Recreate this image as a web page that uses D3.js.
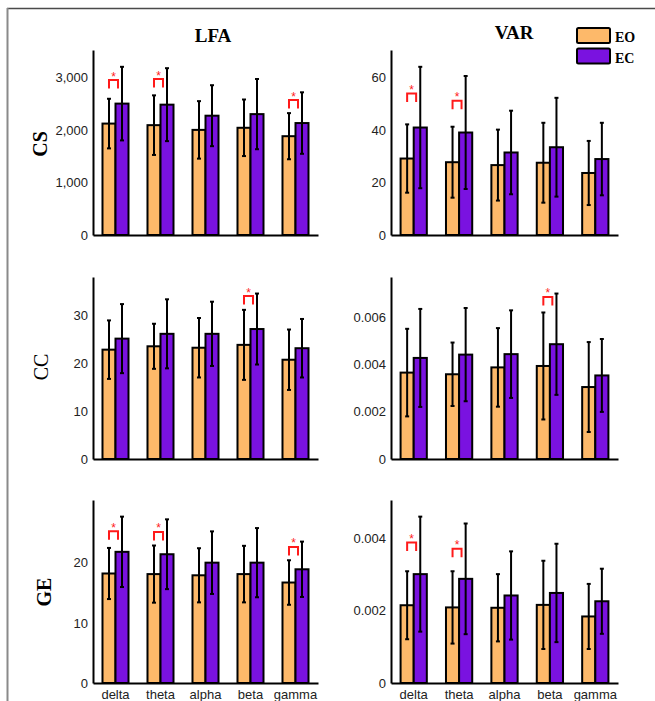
<!DOCTYPE html>
<html>
<head>
<meta charset="utf-8">
<script src="https://cdn.jsdelivr.net/npm/d3@7"></script>
<style>
  body { margin: 0; background: #fff; }
  svg { display: block; }
</style>
</head>
<body>
<script>
const bands = ['delta', 'theta', 'alpha', 'beta', 'gamma']
const groups = ['EO', 'EC']
const measures = ['CS', 'CC', 'GE']
const methods = ['LFA', 'VAR']

// mean and sd per band, one pair of arrays per group and panel
const csLfaEO = [2120, 2090, 2000, 2040, 1880]
const csLfaEOsd = [472, 567, 547, 538, 439]
const csLfaEC = [2500, 2480, 2270, 2300, 2130]
const csLfaECsd = [700, 694, 580, 668, 585]

const csVarEO = [29.1, 27.7, 26.6, 27.5, 23.6]
const csVarEOsd = [13.0, 13.5, 13.5, 15.2, 12.2]
const csVarEC = [40.9, 39.0, 31.4, 33.4, 28.9]
const csVarECsd = [23.1, 21.5, 15.9, 18.8, 13.8]

const ccLfaEO = [22.8, 23.5, 23.2, 23.8, 20.7]
const ccLfaEOsd = [6.1, 4.7, 6.2, 7.3, 6.3]
const ccLfaEC = [25.1, 26.1, 26.1, 27.1, 23.1]
const ccLfaECsd = [7.2, 7.2, 6.7, 7.4, 6.1]

const ccVarEO = [0.00365, 0.00358, 0.00387, 0.00393, 0.00304]
const ccVarEOsd = [0.00185, 0.00134, 0.00166, 0.00226, 0.00190]
const ccVarEC = [0.00427, 0.00441, 0.00443, 0.00485, 0.00353]
const ccVarECsd = [0.00207, 0.00197, 0.00185, 0.00214, 0.00154]

const geLfaEO = [18.2, 18.1, 17.9, 18.1, 16.7]
const geLfaEOsd = [4.25, 4.75, 4.5, 4.7, 3.7]
const geLfaEC = [21.8, 21.4, 20.0, 20.0, 18.9]
const geLfaECsd = [5.85, 5.8, 5.2, 5.75, 4.6]

const geVarEO = [0.00215, 0.00209, 0.00208, 0.00216, 0.00184]
const geVarEOsd = [0.00094, 0.00100, 0.00093, 0.00122, 0.00090]
const geVarEC = [0.00301, 0.00288, 0.00242, 0.00249, 0.00226]
const geVarECsd = [0.00159, 0.00153, 0.00122, 0.00136, 0.00090]

// level of the significance bracket (data units), null = not significant
const csLfaSig = [2786, 2805, null, null, 2405]
const csVarSig = [50.6, 47.9, null, null, null]
const ccLfaSig = [null, null, null, 32.2, null]
const ccVarSig = [null, null, null, 0.00649, null]
const geLfaSig = [23.8, 23.7, null, null, 21.2]
const geVarSig = [0.00365, 0.00348, null, null, null]

const csLfaTicks = [0, 1000, 2000, 3000]
const csVarTicks = [0, 20, 40, 60]
const ccLfaTicks = [0, 10, 20, 30]
const ccVarTicks = [0, 0.002, 0.004, 0.006]
const geLfaTicks = [0, 10, 20]
const geVarTicks = [0, 0.002, 0.004]

const panels = [
  { row: 0, col: 0, eo: csLfaEO, eoSd: csLfaEOsd, ec: csLfaEC, ecSd: csLfaECsd, sig: csLfaSig, ticks: csLfaTicks },
  { row: 0, col: 1, eo: csVarEO, eoSd: csVarEOsd, ec: csVarEC, ecSd: csVarECsd, sig: csVarSig, ticks: csVarTicks },
  { row: 1, col: 0, eo: ccLfaEO, eoSd: ccLfaEOsd, ec: ccLfaEC, ecSd: ccLfaECsd, sig: ccLfaSig, ticks: ccLfaTicks },
  { row: 1, col: 1, eo: ccVarEO, eoSd: ccVarEOsd, ec: ccVarEC, ecSd: ccVarECsd, sig: ccVarSig, ticks: ccVarTicks },
  { row: 2, col: 0, eo: geLfaEO, eoSd: geLfaEOsd, ec: geLfaEC, ecSd: geLfaECsd, sig: geLfaSig, ticks: geLfaTicks },
  { row: 2, col: 1, eo: geVarEO, eoSd: geVarEOsd, ec: geVarEC, ecSd: geVarECsd, sig: geVarSig, ticks: geVarTicks }
]

const W = 655
const H = 701
const colX = [93, 391]
const colW = [225, 227]
const rowY = [[50, 235], [277, 459], [500, 683]]
const colors = { EO: '#FDB96A', EC: '#7A12E0' }
const sansFont = '"Liberation Sans", Arial, sans-serif'
const serifFont = '"Liberation Serif", "Times New Roman", serif'

const svg = d3.select('body').append('svg')
  .attr('width', W)
  .attr('height', H)

// outer frame (cut at right and bottom)
svg.append('line')
  .attr('x1', 7).attr('x2', W).attr('y1', 8.5).attr('y2', 8.5)
  .attr('stroke', '#4a4a4a').attr('stroke-width', 1.5)
svg.append('line')
  .attr('x1', 7.5).attr('x2', 7.5).attr('y1', 8).attr('y2', H)
  .attr('stroke', '#8a8a8a').attr('stroke-width', 2)

const fmt = v => v === 0 ? '0' : (Math.abs(v) < 1 ? d3.format('.3f')(v) : d3.format(',')(v))

panels.forEach(p => {
  const [top, bottom] = rowY[p.row]
  const g = svg.append('g')
    .attr('transform', `translate(${colX[p.col]},0)`)

  const x = d3.scaleBand().domain(bands).range([0, colW[p.col]])
  const xSub = d3.scaleBand().domain(groups).range([0, x.bandwidth()]).paddingOuter(0.73)
  const maxTop = d3.max(bands, (b, i) => Math.max(p.eo[i] + p.eoSd[i], p.ec[i] + p.ecSd[i]))
  const y = d3.scaleLinear().domain([0, maxTop * 1.1]).range([bottom, top])

  const rows = []
  bands.forEach((b, i) => {
    rows.push({ band: b, group: 'EO', mean: p.eo[i], sd: p.eoSd[i] })
    rows.push({ band: b, group: 'EC', mean: p.ec[i], sd: p.ecSd[i] })
  })

  g.selectAll('.bar').data(rows).enter()
    .append('rect')
    .attr('class', 'bar')
    .attr('x', d => x(d.band) + xSub(d.group))
    .attr('y', d => y(d.mean))
    .attr('width', xSub.bandwidth())
    .attr('height', d => y(0) - y(d.mean))
    .attr('fill', d => colors[d.group])
    .attr('stroke', '#000')
    .attr('stroke-width', 2)

  const cx = d => x(d.band) + xSub(d.group) + xSub.bandwidth() / 2
  const err = g.selectAll('.err').data(rows).enter()
    .append('g')
    .attr('class', 'err')
  err.append('line')
    .attr('x1', cx).attr('x2', cx)
    .attr('y1', d => y(d.mean - d.sd)).attr('y2', d => y(d.mean + d.sd))
    .attr('stroke', '#000').attr('stroke-width', 2)
  err.append('line')
    .attr('x1', d => cx(d) - 2).attr('x2', d => cx(d) + 2)
    .attr('y1', d => y(d.mean + d.sd)).attr('y2', d => y(d.mean + d.sd))
    .attr('stroke', '#000').attr('stroke-width', 2)
  err.append('line')
    .attr('x1', d => cx(d) - 2).attr('x2', d => cx(d) + 2)
    .attr('y1', d => y(d.mean - d.sd)).attr('y2', d => y(d.mean - d.sd))
    .attr('stroke', '#000').attr('stroke-width', 2)

  // significance brackets
  const sigs = bands.map((b, i) => ({ band: b, level: p.sig[i] })).filter(d => d.level !== null)
  const sg = g.selectAll('.sig').data(sigs).enter()
    .append('g')
    .attr('class', 'sig')
  const bx0 = d => x(d.band) + xSub('EO') + xSub.bandwidth() / 2
  sg.append('path')
    .attr('d', d => {
      const x0 = bx0(d), x1 = x0 + 9, yb = y(d.level), yt = yb - 8.5
      return `M${x0},${yb}V${yt}H${x1}V${yb}`
    })
    .attr('fill', 'none')
    .attr('stroke', '#ff1a1a')
    .attr('stroke-width', 2)
  sg.append('text')
    .attr('x', d => bx0(d) + 4.5)
    .attr('y', d => y(d.level) - 8)
    .attr('text-anchor', 'middle')
    .attr('font-family', sansFont)
    .attr('font-size', 12)
    .attr('fill', '#ff1a1a')
    .text('*')

  // axes
  const yAxis = g.append('g')
    .call(d3.axisLeft(y).tickValues(p.ticks).tickFormat(fmt).tickSize(0).tickSizeOuter(0).tickPadding(5))
  yAxis.select('.domain').attr('stroke', '#000').attr('stroke-width', 2)
  yAxis.selectAll('text')
    .attr('font-family', sansFont)
    .attr('font-size', 13)
    .attr('fill', '#222')

  const xAxis = g.append('g')
    .attr('transform', `translate(0,${bottom})`)
    .call(d3.axisBottom(x).tickSize(0).tickSizeOuter(0).tickPadding(6.5))
  xAxis.select('.domain').attr('stroke', '#000').attr('stroke-width', 2)
  xAxis.selectAll('text')
    .attr('font-family', sansFont)
    .attr('font-size', 13)
    .attr('fill', '#222')
    .style('display', p.row === 2 ? null : 'none')
})

// column titles
const titleX = [213, 514]
const titleY = [42, 39]
methods.forEach((m, i) => {
  svg.append('text')
    .attr('x', titleX[i])
    .attr('y', titleY[i])
    .attr('text-anchor', 'middle')
    .attr('font-family', serifFont)
    .attr('font-weight', 'bold')
    .attr('font-size', 19)
    .text(m)
})

// row labels
const labelPos = [[47, 144], [48, 367], [51, 592]]
measures.forEach((m, i) => {
  svg.append('text')
    .attr('transform', `translate(${labelPos[i][0]},${labelPos[i][1]}) rotate(-90)`)
    .attr('text-anchor', 'middle')
    .attr('font-family', serifFont)
    .attr('font-weight', m === 'CC' ? 'normal' : 'bold')
    .attr('font-size', 20)
    .text(m)
})

// legend
const legend = svg.append('g').attr('transform', 'translate(577,28)')
groups.forEach((gname, i) => {
  legend.append('rect')
    .attr('x', 0)
    .attr('y', i * 20.5)
    .attr('width', 33)
    .attr('height', 15)
    .attr('rx', 1.5)
    .attr('fill', colors[gname])
    .attr('stroke', '#000')
    .attr('stroke-width', 2)
  legend.append('text')
    .attr('x', 38)
    .attr('y', i * 20.5 + 14)
    .attr('font-family', serifFont)
    .attr('font-weight', 'bold')
    .attr('font-size', 14)
    .text(gname)
})
</script>
</body>
</html>
